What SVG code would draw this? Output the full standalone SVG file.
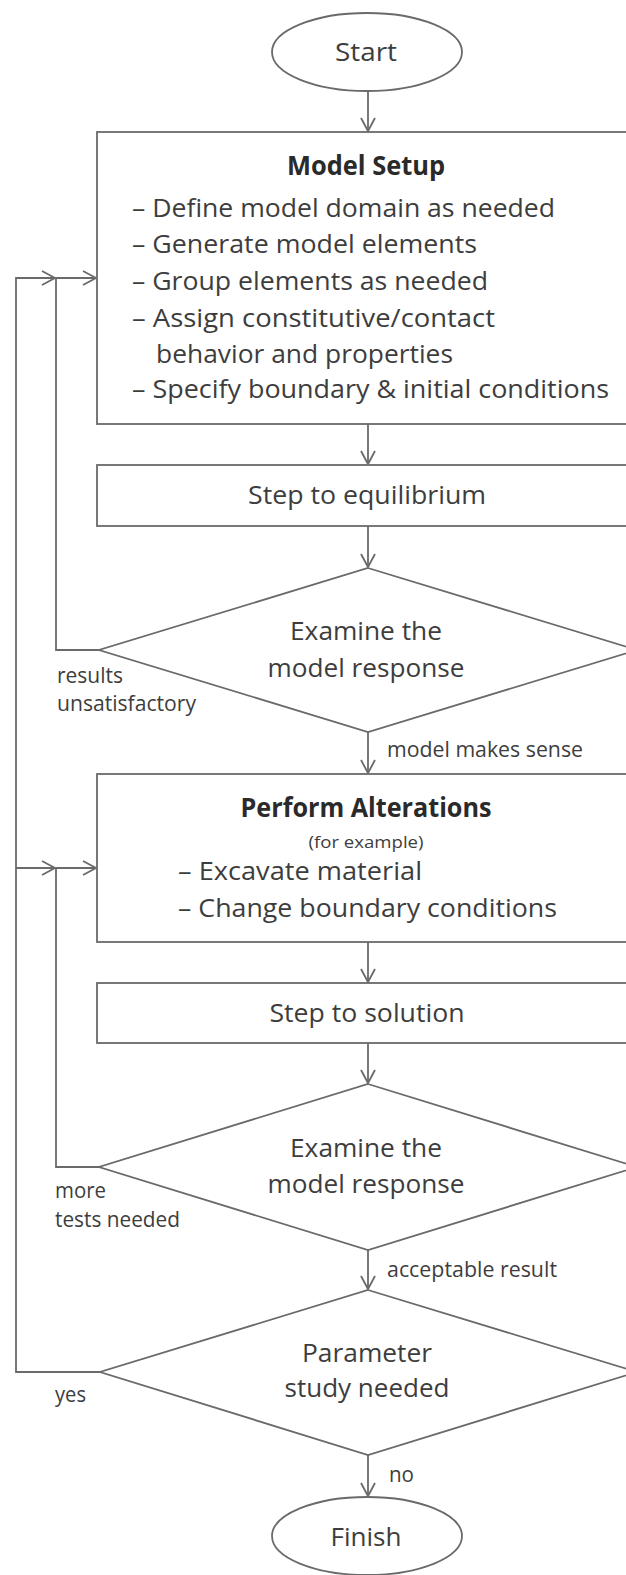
<svg xmlns="http://www.w3.org/2000/svg" width="626" height="1575" viewBox="0 0 626 1575">
<style>
.sh{fill:#fff;stroke:#6a6a6a;stroke-width:1.8}
.cn{fill:none;stroke:#6a6a6a;stroke-width:1.8;marker-end:url(#ah)}
.t{font-family:"Open Sans","Noto Sans",sans-serif;font-size:26px;fill:#3d3d3d}
.c{text-anchor:middle}
.b{font-weight:bold;fill:#2a2a2a}
.l{font-family:"Open Sans","Noto Sans",sans-serif;font-size:21px;fill:#3d3d3d}
.s{font-family:"Open Sans","Noto Sans",sans-serif;font-size:17px;fill:#3d3d3d;text-anchor:middle}
</style>
<defs>
<marker id="ah" viewBox="-15 -9 17 18" refX="0" refY="0" markerWidth="17" markerHeight="18" markerUnits="userSpaceOnUse" orient="auto">
<path d="M-13,-7 L0,0 L-13,7" fill="none" stroke="#6a6a6a" stroke-width="1.8"/>
</marker>
</defs>
<g id="connectors">
<path class="cn" d="M368 91 V131"/>
<path class="cn" d="M368 424 V464"/>
<path class="cn" d="M368 526 V567"/>
<path class="cn" d="M368 732 V773"/>
<path class="cn" d="M368 942 V982"/>
<path class="cn" d="M368 1043 V1083"/>
<path class="cn" d="M368 1250 V1289"/>
<path class="cn" d="M368 1455 V1496"/>
<path class="cn" d="M99 650 H56 V278 H96"/>
<path class="cn" d="M100 1372 H16 V278 H55"/>
<path class="cn" d="M16 868 H55"/>
<path class="cn" d="M99 1167 H56 V868 H96"/>
<text class="l" x="57" y="683" textLength="66" lengthAdjust="spacingAndGlyphs">results</text>
<text class="l" x="57" y="711" textLength="139" lengthAdjust="spacingAndGlyphs">unsatisfactory</text>
<text class="l" x="387" y="757" textLength="196" lengthAdjust="spacingAndGlyphs">model makes sense</text>
<text class="l" x="55" y="1198" textLength="51" lengthAdjust="spacingAndGlyphs">more</text>
<text class="l" x="55" y="1227" textLength="125" lengthAdjust="spacingAndGlyphs">tests needed</text>
<text class="l" x="387" y="1277" textLength="170" lengthAdjust="spacingAndGlyphs">acceptable result</text>
<text class="l" x="55" y="1402" textLength="31" lengthAdjust="spacingAndGlyphs">yes</text>
<text class="l" x="389" y="1482" textLength="25" lengthAdjust="spacingAndGlyphs">no</text>
</g>
<g id="start">
<ellipse class="sh" cx="367" cy="52" rx="95" ry="39"/>
<text class="t c" x="366" y="61" textLength="62" lengthAdjust="spacingAndGlyphs">Start</text>
</g>
<g id="model-setup">
<rect class="sh" x="97" y="132" width="545" height="292"/>
<text class="t c b" x="366" y="175" textLength="158" lengthAdjust="spacingAndGlyphs">Model Setup</text>
<text class="t" x="132" y="217" textLength="423" lengthAdjust="spacingAndGlyphs">– Define model domain as needed</text>
<text class="t" x="132" y="253" textLength="345" lengthAdjust="spacingAndGlyphs">– Generate model elements</text>
<text class="t" x="132" y="290" textLength="356" lengthAdjust="spacingAndGlyphs">– Group elements as needed</text>
<text class="t" x="132" y="327" textLength="363" lengthAdjust="spacingAndGlyphs">– Assign constitutive/contact</text>
<text class="t" x="156" y="363" textLength="297" lengthAdjust="spacingAndGlyphs">behavior and properties</text>
<text class="t" x="132" y="398" textLength="477" lengthAdjust="spacingAndGlyphs">– Specify boundary &amp; initial conditions</text>
</g>
<g id="step-equilibrium">
<rect class="sh" x="97" y="465" width="545" height="61"/>
<text class="t c" x="367" y="504" textLength="238" lengthAdjust="spacingAndGlyphs">Step to equilibrium</text>
</g>
<g id="examine-1">
<polygon class="sh" points="368,568 637,650 368,732 99,650"/>
<text class="t c" x="366" y="640" textLength="152" lengthAdjust="spacingAndGlyphs">Examine the</text>
<text class="t c" x="366" y="677" textLength="197" lengthAdjust="spacingAndGlyphs">model response</text>
</g>
<g id="perform-alterations">
<rect class="sh" x="97" y="774" width="545" height="168"/>
<text class="t c b" x="366" y="817" textLength="251" lengthAdjust="spacingAndGlyphs">Perform Alterations</text>
<text class="s" x="366" y="848" textLength="115" lengthAdjust="spacingAndGlyphs">(for example)</text>
<text class="t" x="178" y="880" textLength="244" lengthAdjust="spacingAndGlyphs">– Excavate material</text>
<text class="t" x="178" y="917" textLength="379" lengthAdjust="spacingAndGlyphs">– Change boundary conditions</text>
</g>
<g id="step-solution">
<rect class="sh" x="97" y="983" width="545" height="60"/>
<text class="t c" x="367" y="1022" textLength="195" lengthAdjust="spacingAndGlyphs">Step to solution</text>
</g>
<g id="examine-2">
<polygon class="sh" points="368,1084 637,1167 368,1250 99,1167"/>
<text class="t c" x="366" y="1157" textLength="152" lengthAdjust="spacingAndGlyphs">Examine the</text>
<text class="t c" x="366" y="1193" textLength="197" lengthAdjust="spacingAndGlyphs">model response</text>
</g>
<g id="parameter-study">
<polygon class="sh" points="368,1290 637,1372 368,1455 100,1372"/>
<text class="t c" x="367" y="1362" textLength="130" lengthAdjust="spacingAndGlyphs">Parameter</text>
<text class="t c" x="367" y="1397" textLength="165" lengthAdjust="spacingAndGlyphs">study needed</text>
</g>
<g id="finish">
<ellipse class="sh" cx="367" cy="1536" rx="95" ry="39"/>
<text class="t c" x="366" y="1546" textLength="71" lengthAdjust="spacingAndGlyphs">Finish</text>
</g>
</svg>
